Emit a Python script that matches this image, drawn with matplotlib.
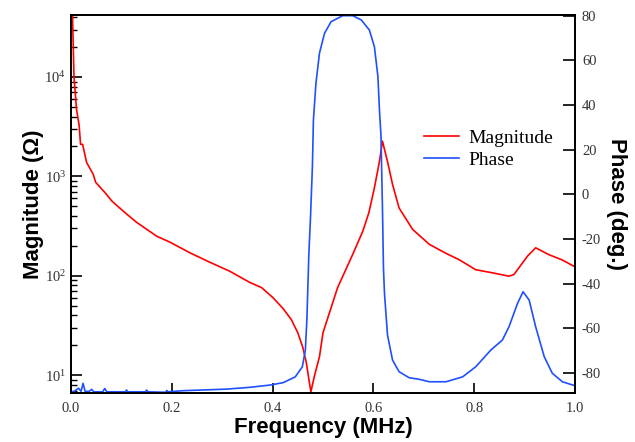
import matplotlib.pyplot as plt
import numpy as np

# magnitude curve (MHz, ohm)
mag_f = [0.001, 0.003, 0.006, 0.011, 0.016, 0.019, 0.023, 0.031, 0.044, 0.049,
         0.067, 0.081, 0.104, 0.130, 0.170, 0.196, 0.236, 0.275, 0.315, 0.354,
         0.378, 0.401, 0.421, 0.437, 0.450, 0.460, 0.467, 0.472, 0.476, 0.483,
         0.493, 0.500, 0.529, 0.559, 0.579, 0.591, 0.602, 0.612, 0.618, 0.628,
         0.638, 0.651, 0.678, 0.711, 0.744, 0.770, 0.803, 0.836, 0.869, 0.879,
         0.906, 0.922, 0.948, 0.975, 0.996, 1.000]
mag_z = [48000, 41000, 10000, 4700, 3300, 2100, 2100, 1380, 1050, 870,
         690, 565, 445, 345, 250, 218, 170, 137, 111, 86,
         76, 60, 46.6, 36.3, 26.7, 19, 13.3, 9.06, 6.8, 9.8,
         15.3, 26.7, 76, 164, 281, 430, 767, 1410, 2260, 1410,
         830, 480, 292, 207, 168, 145, 115, 107, 99, 103,
         158, 191, 163, 144, 126, 124]

# phase curve (MHz, deg)
ph_f = [0.000, 0.005, 0.010, 0.015, 0.020, 0.024, 0.028, 0.036, 0.041, 0.045,
        0.063, 0.067, 0.071, 0.108, 0.110, 0.113, 0.148, 0.150, 0.153, 0.188,
        0.190, 0.193, 0.222, 0.308, 0.354, 0.394, 0.421, 0.445, 0.459, 0.465,
        0.468, 0.472, 0.475, 0.479, 0.481, 0.486, 0.493, 0.503, 0.516, 0.539,
        0.559, 0.576, 0.592, 0.602, 0.609, 0.612, 0.615, 0.618, 0.620, 0.622,
        0.628, 0.638, 0.651, 0.671, 0.691, 0.711, 0.744, 0.777, 0.803, 0.833,
        0.856, 0.869, 0.886, 0.897, 0.909, 0.922, 0.939, 0.955, 0.975, 0.996, 1.000]
ph_deg = [-88.4, -88.4, -87.6, -86.8, -88.2, -84.6, -88.2, -88.2, -87.3, -88.4,
          -88.4, -86.9, -88.4, -88.4, -87.6, -88.4, -88.4, -87.6, -88.4, -88.6,
          -87.8, -88.4, -87.9, -87.2, -86.4, -85.4, -84.3, -81.7, -77.2, -69.7,
          -56.3, -26.4, -11.5, 12.4, 33.3, 49.7, 63.2, 72.1, 77.3, 80.0,
          80.0, 78.1, 73.6, 66.1, 52.7, 37.8, 26.6, -6.3, -33.1, -44.3,
          -63.0, -74.2, -79.4, -82.1, -82.8, -83.9, -83.9, -81.7, -77.2, -69.7,
          -65.2, -59.3, -48.8, -43.6, -47.3, -59.3, -72.7, -80.1, -83.9, -85.4, -85.6]

plt.rcParams['font.family'] = 'Liberation Serif'
plt.rcParams['mathtext.fontset'] = 'custom'
plt.rcParams['mathtext.rm'] = 'Liberation Serif'
plt.rcParams['mathtext.it'] = 'Liberation Serif:italic'
plt.rcParams['axes.unicode_minus'] = False

red = '#ff0000'
blue = '#1f50ff'

fig = plt.figure(figsize=(6.35, 4.42), dpi=100)
ax = fig.add_axes([0.1118, 0.110, 0.7937, 0.856])
ax2 = ax.twinx()

l1, = ax.plot(mag_f, mag_z, color=red, lw=1.2, label='Magnitude')
l2, = ax2.plot(ph_f, ph_deg, color=blue, lw=1.2, label='Phase')

ax.set_yscale('log')
ax.set_xlim(0, 1.0)
ax.set_ylim(6.55, 42000)
ax2.set_ylim(-89.1, 80.3)
ax.set_xticks(np.arange(0, 1.01, 0.2))
ax.set_xticklabels([f'{v:.1f}' for v in np.arange(0, 1.01, 0.2)])
ax2.set_yticks(np.arange(-80, 81, 20))

for a in (ax, ax2):
    for s in a.spines.values():
        s.set_linewidth(1.3)
ax.tick_params(which='major', direction='in', length=8, width=1.2, labelsize=10.5,
               labelcolor='#333333')
ax.tick_params(which='minor', direction='in', length=4, width=1.0)
ax.tick_params(axis='x', length=7, pad=6)
ax2.tick_params(direction='in', length=9, width=1.2, labelsize=10.5, pad=5,
                labelcolor='#333333')

lab = dict(family='Liberation Sans', fontweight='bold', fontsize=16)
ax.set_xlabel('Frequency (MHz)', labelpad=2, **lab)
ax.set_ylabel('Magnitude (Ω)', labelpad=0, **lab)
ax2.set_ylabel('Phase (deg.)', rotation=270, ha='center', va='center', **lab)
ax2.yaxis.set_label_coords(1.082, 0.5)

ax2.legend([l1, l2], ['Magnitude', 'Phase'], loc='upper left',
           bbox_to_anchor=(0.666, 0.745), frameon=False, fontsize=14,
           handlelength=1.8, handletextpad=0.5, labelspacing=0.25)

fig.savefig('out.png', dpi=100)
